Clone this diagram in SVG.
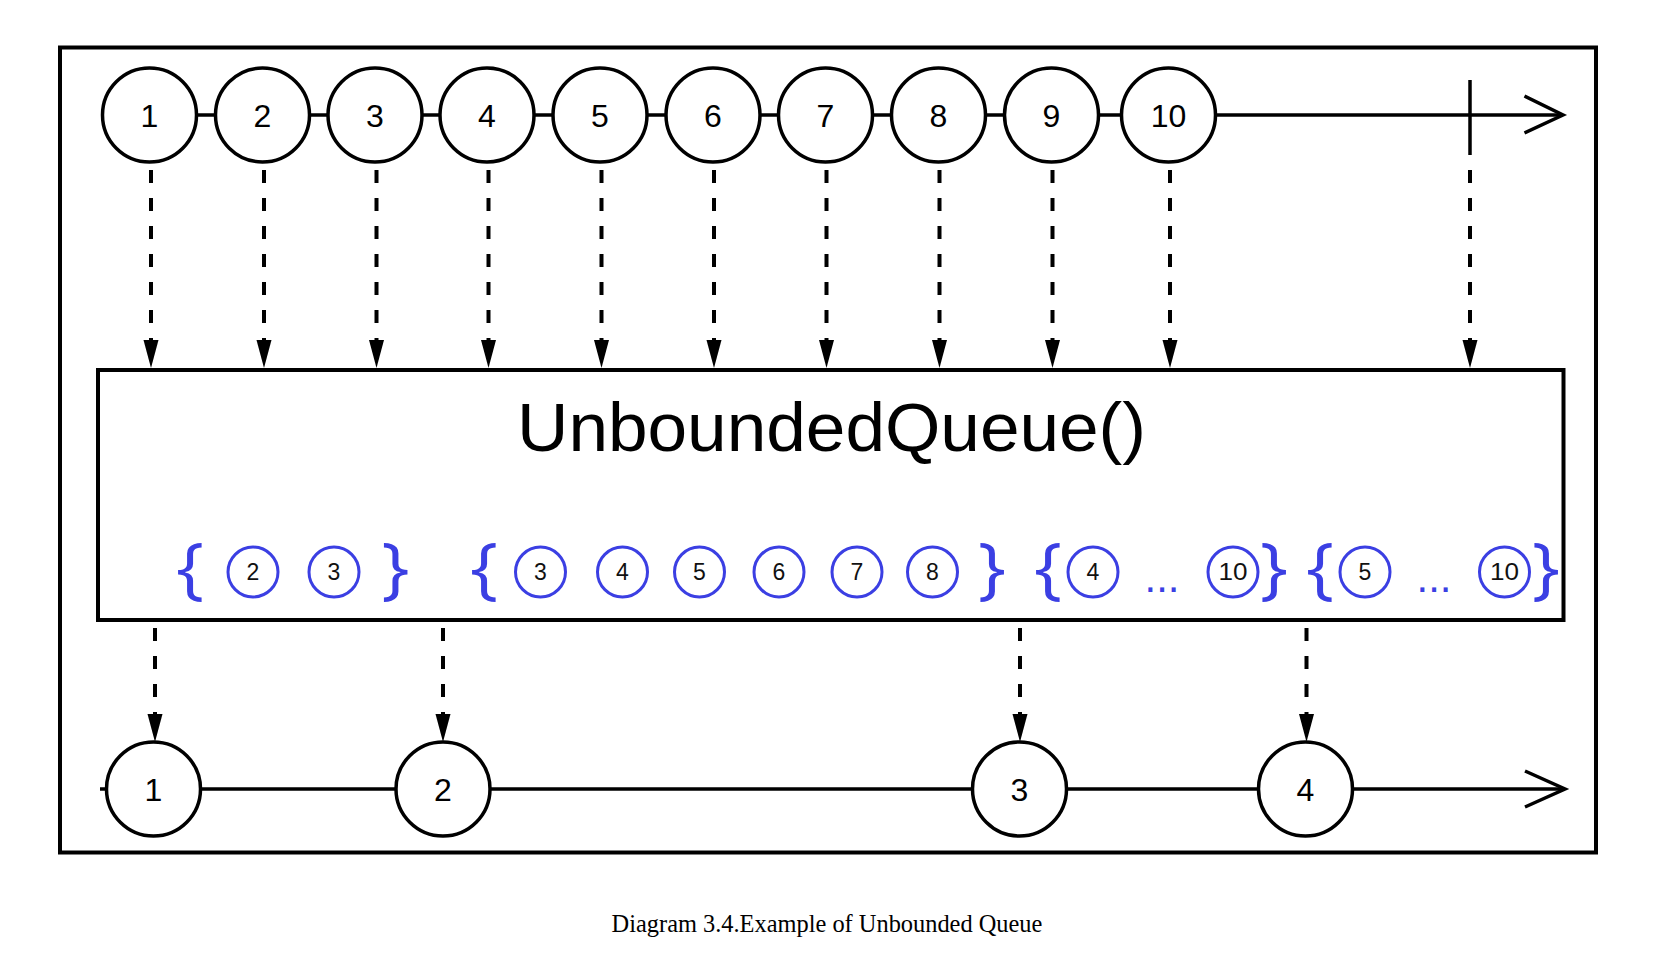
<svg xmlns="http://www.w3.org/2000/svg" width="1674" height="954" viewBox="0 0 1674 954">
<style>
.frame{fill:none;stroke:#000;stroke-width:4}
.solid{fill:none;stroke:#000;stroke-width:3.5}
.dash{fill:none;stroke:#000;stroke-width:4;stroke-dasharray:13 15}
.big{fill:#fff;stroke:#000;stroke-width:3.5}
.small{fill:#fff;stroke:#3b3fe3;stroke-width:3}
.num{font-family:"Liberation Sans",Arial,sans-serif;font-size:32px;fill:#000;text-anchor:middle}
.snum{font-family:"Liberation Sans",Arial,sans-serif;font-size:23px;fill:#111;text-anchor:middle}
.brace{font-family:"Open Sans","Liberation Sans",sans-serif;font-weight:400;font-size:68px;fill:#3b3fe3}
.dots{font-family:"Liberation Sans",Arial,sans-serif;font-size:42px;fill:#3b3fe3;text-anchor:middle}
.title{font-family:"Liberation Sans",Arial,sans-serif;font-size:68px;fill:#000}
.caption{font-family:"Liberation Serif","Times New Roman",serif;font-size:24.4px;fill:#000;text-anchor:middle}
</style>
<defs>
<marker id="ah" markerUnits="userSpaceOnUse" markerWidth="28" markerHeight="16" viewBox="0 0 28 16" refX="0" refY="8" orient="auto">
<path d="M0,0.5 L28,8 L0,15.5 z" fill="#000"/>
</marker>
</defs>
<rect width="1674" height="954" fill="#fff"/>
<rect id="frame" class="frame" x="60" y="47.5" width="1536" height="805"/>

<g id="connectors">
<line class="solid" x1="149.5" y1="115" x2="1563" y2="115"/>
<polyline class="solid" points="1524.5,96 1563,115 1524.5,133"/>
<line class="solid" x1="1470" y1="80" x2="1470" y2="155"/>
<line class="solid" x1="100" y1="789" x2="1565" y2="789"/>
<polyline class="solid" points="1525,771 1565,789 1525,807"/>
<g marker-end="url(#ah)">
<line class="dash" x1="151" y1="170" x2="151" y2="340"/>
<line class="dash" x1="264" y1="170" x2="264" y2="340"/>
<line class="dash" x1="376.5" y1="170" x2="376.5" y2="340"/>
<line class="dash" x1="488.5" y1="170" x2="488.5" y2="340"/>
<line class="dash" x1="601.5" y1="170" x2="601.5" y2="340"/>
<line class="dash" x1="714" y1="170" x2="714" y2="340"/>
<line class="dash" x1="826.5" y1="170" x2="826.5" y2="340"/>
<line class="dash" x1="939.5" y1="170" x2="939.5" y2="340"/>
<line class="dash" x1="1052.5" y1="170" x2="1052.5" y2="340"/>
<line class="dash" x1="1170" y1="170" x2="1170" y2="340"/>
<line class="dash" x1="1470" y1="170" x2="1470" y2="340"/>
<line class="dash" x1="155" y1="628" x2="155" y2="714"/>
<line class="dash" x1="443" y1="628" x2="443" y2="714"/>
<line class="dash" x1="1020" y1="628" x2="1020" y2="714"/>
<line class="dash" x1="1306.5" y1="628" x2="1306.5" y2="714"/>
</g>
</g>

<g id="top-1"><circle class="big" cx="149.5" cy="115" r="47"/><text class="num" x="149.5" y="126.5">1</text></g>
<g id="top-2"><circle class="big" cx="262.5" cy="115" r="47"/><text class="num" x="262.5" y="126.5">2</text></g>
<g id="top-3"><circle class="big" cx="375" cy="115" r="47"/><text class="num" x="375" y="126.5">3</text></g>
<g id="top-4"><circle class="big" cx="487" cy="115" r="47"/><text class="num" x="487" y="126.5">4</text></g>
<g id="top-5"><circle class="big" cx="600" cy="115" r="47"/><text class="num" x="600" y="126.5">5</text></g>
<g id="top-6"><circle class="big" cx="713" cy="115" r="47"/><text class="num" x="713" y="126.5">6</text></g>
<g id="top-7"><circle class="big" cx="825.5" cy="115" r="47"/><text class="num" x="825.5" y="126.5">7</text></g>
<g id="top-8"><circle class="big" cx="938.5" cy="115" r="47"/><text class="num" x="938.5" y="126.5">8</text></g>
<g id="top-9"><circle class="big" cx="1051.5" cy="115" r="47"/><text class="num" x="1051.5" y="126.5">9</text></g>
<g id="top-10"><circle class="big" cx="1168.5" cy="115" r="47"/><text class="num" x="1168.5" y="126.5">10</text></g>

<g id="queue">
<rect class="frame" x="98" y="370" width="1465.5" height="250" fill="#fff"/>
<text class="title" x="517" y="451" textLength="629" lengthAdjust="spacingAndGlyphs">UnboundedQueue()</text>
<g id="buffer-1">
<text class="brace" x="176" y="591" textLength="28" lengthAdjust="spacingAndGlyphs">{</text>
<circle class="small" cx="253" cy="572" r="25"/><text class="snum" x="253" y="580">2</text>
<circle class="small" cx="334" cy="572" r="25"/><text class="snum" x="334" y="580">3</text>
<text class="brace" x="381.5" y="591" textLength="28" lengthAdjust="spacingAndGlyphs">}</text>
</g>
<g id="buffer-2">
<text class="brace" x="470" y="591" textLength="28" lengthAdjust="spacingAndGlyphs">{</text>
<circle class="small" cx="540.5" cy="572" r="25"/><text class="snum" x="540.5" y="580">3</text>
<circle class="small" cx="622.5" cy="572" r="25"/><text class="snum" x="622.5" y="580">4</text>
<circle class="small" cx="699.5" cy="572" r="25"/><text class="snum" x="699.5" y="580">5</text>
<circle class="small" cx="779" cy="572" r="25"/><text class="snum" x="779" y="580">6</text>
<circle class="small" cx="857" cy="572" r="25"/><text class="snum" x="857" y="580">7</text>
<circle class="small" cx="932.5" cy="572" r="25"/><text class="snum" x="932.5" y="580">8</text>
<text class="brace" x="978" y="591" textLength="28" lengthAdjust="spacingAndGlyphs">}</text>
</g>
<g id="buffer-3">
<text class="brace" x="1034" y="591" textLength="28" lengthAdjust="spacingAndGlyphs">{</text>
<circle class="small" cx="1093" cy="572" r="25"/><text class="snum" x="1093" y="580">4</text>
<text class="dots" x="1162" y="592">...</text>
<circle class="small" cx="1233" cy="572" r="25"/><text class="snum" x="1218.5" y="580" style="text-anchor:start" textLength="29" lengthAdjust="spacingAndGlyphs">10</text>
<text class="brace" x="1260" y="591" textLength="28" lengthAdjust="spacingAndGlyphs">}</text>
</g>
<g id="buffer-4">
<text class="brace" x="1306" y="591" textLength="28" lengthAdjust="spacingAndGlyphs">{</text>
<circle class="small" cx="1365" cy="572" r="25"/><text class="snum" x="1365" y="580">5</text>
<text class="dots" x="1434" y="592">...</text>
<circle class="small" cx="1504.5" cy="572" r="25"/><text class="snum" x="1490" y="580" style="text-anchor:start" textLength="29" lengthAdjust="spacingAndGlyphs">10</text>
<text class="brace" x="1532" y="591" textLength="28" lengthAdjust="spacingAndGlyphs">}</text>
</g>
</g>

<g id="out-1"><circle class="big" cx="153.5" cy="789" r="47"/><text class="num" x="153.5" y="800.5">1</text></g>
<g id="out-2"><circle class="big" cx="443" cy="789" r="47"/><text class="num" x="443" y="800.5">2</text></g>
<g id="out-3"><circle class="big" cx="1019.5" cy="789" r="47"/><text class="num" x="1019.5" y="800.5">3</text></g>
<g id="out-4"><circle class="big" cx="1305.5" cy="789" r="47"/><text class="num" x="1305.5" y="800.5">4</text></g>

<text id="caption" class="caption" x="827" y="932">Diagram 3.4.Example of Unbounded Queue</text>
</svg>
